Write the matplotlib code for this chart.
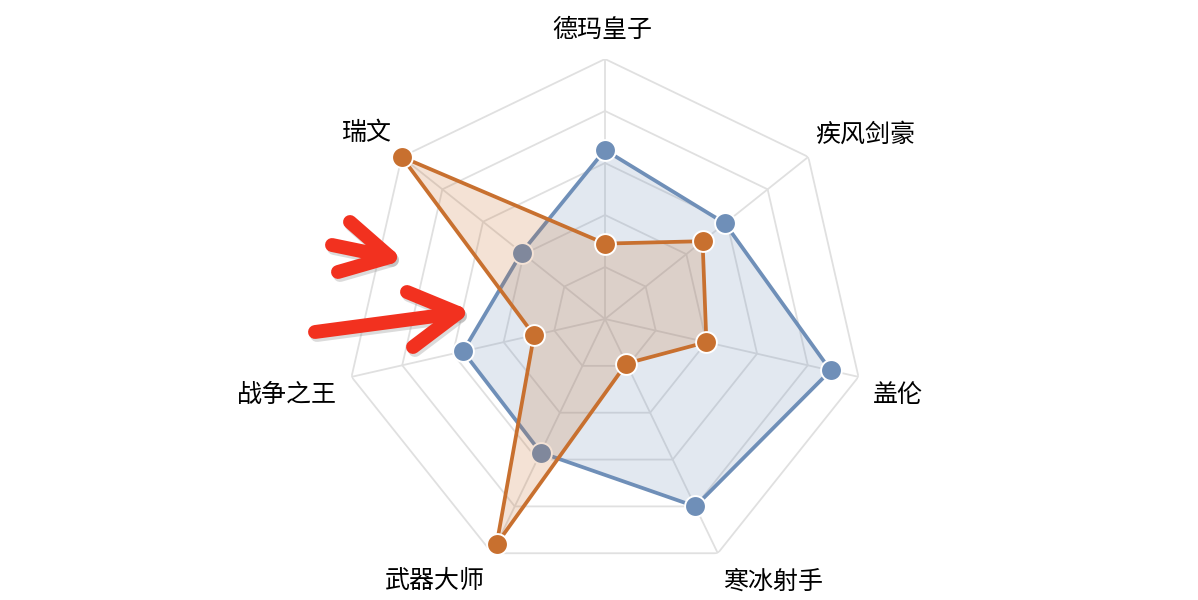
import numpy as np
import matplotlib
matplotlib.use("Agg")
import matplotlib.pyplot as plt

plt.rcParams['font.family'] = ['Noto Sans CJK SC', 'DejaVu Sans']

heroes = ["德玛皇子", "疾风剑豪", "盖伦", "寒冰射手", "武器大师", "战争之王", "瑞文"]
series_a = [65, 59, 89, 80, 57, 56, 41]
series_b = [29, 48, 40, 19, 96, 28, 100]
vmax = 100
levels = [20, 40, 60, 80, 100]

blue = "#6f8fb8"
orange = "#c8702f"
grid_c = "#e0e0e0"

# label placement: (ha, dx px, dy px) relative to outer vertex
label_pos = [("center", -3, 29), ("left", 7, 22), ("left", 14, -18),
             ("left", 5, -28), ("right", -7, -28), ("right", -15, -18),
             ("right", -10, 24)]

W, H = 1198, 600
fig = plt.figure(figsize=(W / 100, H / 100), dpi=100)
cx, cy, R = 605, 319, 260
ax = fig.add_axes([(cx - R) / W, (H - cy - R) / H, 2 * R / W, 2 * R / H],
                  projection="polar")
ax.set_theta_offset(np.pi / 2)
ax.set_theta_direction(-1)
ax.set_ylim(0, vmax)
ax.grid(False)
ax.spines["polar"].set_visible(False)
ax.set_xticks([])
ax.set_yticks([])
ax.patch.set_visible(False)

n = len(heroes)
theta = np.arange(n) * 2 * np.pi / n
tc = np.append(theta, theta[0])

for lv in levels:
    ax.plot(tc, [lv] * (n + 1), color=grid_c, lw=1.3, zorder=1)
for t in theta:
    ax.plot([t, t], [0, vmax], color=grid_c, lw=1.3, zorder=1)

for vals, col, z in [(series_a, blue, 2), (series_b, orange, 5)]:
    vc = vals + vals[:1]
    ax.fill(tc, vc, color=col, alpha=0.2, lw=0, zorder=z)
    ax.plot(tc, vc, color=col, lw=2.7, zorder=z + 1)
    ax.plot(theta, vals, "o", color=col, ms=15, mec="white", mew=1.4,
            zorder=z + 2, clip_on=False)

for t, name, (ha, dx, dy) in zip(theta, heroes, label_pos):
    ax.annotate(name, (t, vmax), xytext=(dx, dy), textcoords="offset pixels",
                ha=ha, va="center", fontsize=18, color="black",
                annotation_clip=False)

# red hand-drawn arrows
ov = fig.add_axes([0, 0, 1, 1])
ov.set_xlim(0, W)
ov.set_ylim(H, 0)
ov.axis("off")
ov.patch.set_visible(False)
arrows = [
    [[(332, 245), (390, 257)], [(350, 222), (390, 257), (338, 272)]],
    [[(315, 332), (458, 313)], [(407, 292), (458, 313), (413, 347)]],
]
for arr in arrows:
    for off, col, a in [((2, 3), "#999999", 0.35), ((0, 0), "#f2311f", 1.0)]:
        for seg in arr:
            xs = [p[0] + off[0] for p in seg]
            ys = [p[1] + off[1] for p in seg]
            ov.plot(xs, ys, color=col, alpha=a, lw=10,
                    solid_capstyle="round", solid_joinstyle="round")

fig.savefig("out.png", dpi=100)
